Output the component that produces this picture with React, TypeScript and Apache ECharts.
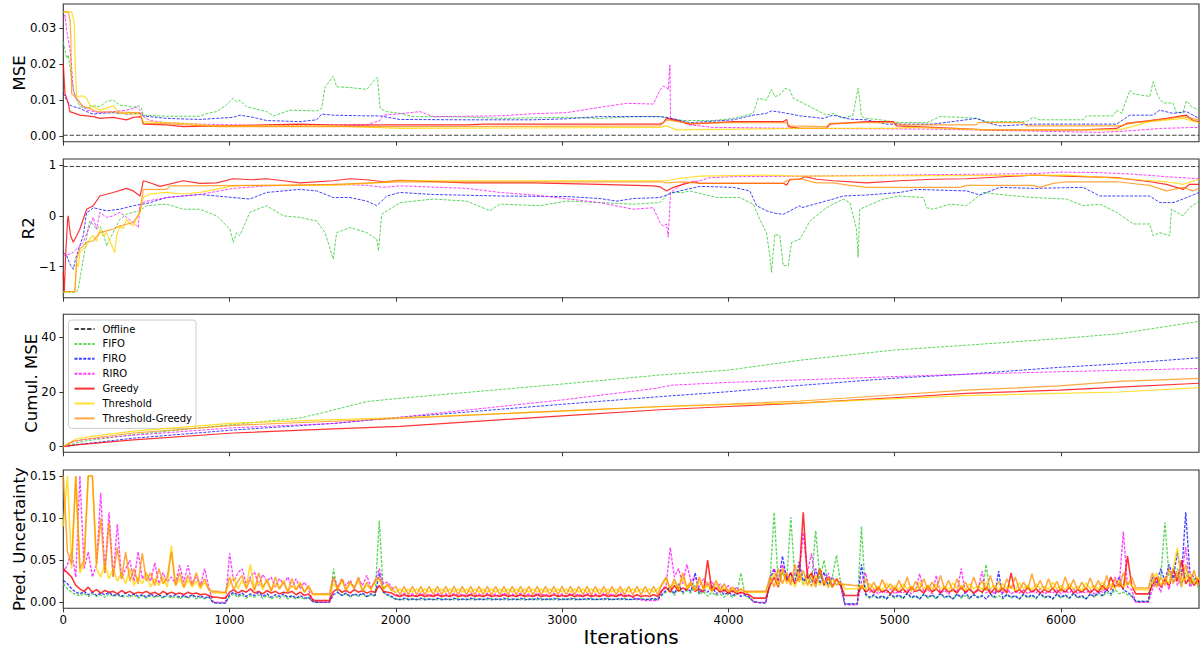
import React, { useEffect, useRef } from "react";
import * as echarts from "echarts";

// ---- shared x range (iterations) ----
const X_MAX = 6830;
const X_TICKS = [0, 1000, 2000, 3000, 4000, 5000, 6000];
const UNC_STEP = 25; // prediction-uncertainty values are listed every 25 iterations

const METHODS = ["Offline", "FIFO", "FIRO", "RIRO", "Greedy", "Threshold", "Threshold-Greedy"];

// ---- MSE (rolling) : [iteration, value] ----
const mseOffline = [[0, 0.0002], [6830, 0.0002]];
const mseFIFO = [
  [0, 0.0263], [10, 0.024], [20, 0.0216], [30, 0.0226], [40, 0.0193], [50, 0.0156], [60, 0.0133], [70, 0.011],
  [100, 0.0082], [140, 0.0077], [180, 0.0084], [220, 0.0082], [260, 0.0096], [300, 0.01], [340, 0.0086],
  [380, 0.0084], [420, 0.008], [450, 0.0084], [470, 0.0078], [481, 0.0058], [620, 0.0055], [820, 0.0055],
  [860, 0.0062], [922, 0.0068], [980, 0.0086], [1022, 0.0105], [1042, 0.0095], [1062, 0.01], [1100, 0.0082],
  [1142, 0.0077], [1223, 0.0068], [1263, 0.0056], [1310, 0.0063], [1363, 0.0072], [1524, 0.007], [1554, 0.0077],
  [1574, 0.0136], [1624, 0.0167], [1644, 0.0137], [1724, 0.0135], [1825, 0.013], [1870, 0.0155], [1890, 0.0163],
  [1905, 0.0077], [1945, 0.0068], [2025, 0.0063], [2100, 0.0054], [2426, 0.0053], [2626, 0.0049], [3027, 0.0052],
  [3228, 0.0049], [3428, 0.0054], [3588, 0.0054], [3652, 0.0049], [3728, 0.0043], [3909, 0.0043], [4029, 0.0049],
  [4109, 0.0058], [4149, 0.0063], [4179, 0.0105], [4229, 0.01], [4259, 0.013], [4279, 0.011], [4309, 0.0114],
  [4340, 0.0133], [4370, 0.0128], [4390, 0.0105], [4430, 0.0096], [4510, 0.0077], [4590, 0.0058], [4630, 0.0063],
  [4690, 0.0049], [4750, 0.0058], [4770, 0.011], [4780, 0.0133], [4790, 0.01], [4800, 0.0054], [4831, 0.0049],
  [4951, 0.0043], [4991, 0.0038], [5192, 0.0037], [5272, 0.0054], [5392, 0.0052], [5492, 0.0049], [5552, 0.004],
  [5793, 0.004], [5833, 0.0052], [5873, 0.0045], [6133, 0.0045], [6153, 0.0056], [6314, 0.0056], [6334, 0.0072],
  [6364, 0.0063], [6414, 0.0128], [6434, 0.0118], [6534, 0.011], [6554, 0.0151], [6584, 0.011], [6614, 0.0092],
  [6674, 0.0092], [6694, 0.0065], [6734, 0.0065], [6754, 0.0098], [6784, 0.0082], [6830, 0.0072],
];
const mseFIRO = [
  [0, 0.0119], [20, 0.01], [40, 0.0086], [60, 0.0082], [100, 0.0077], [140, 0.0068], [180, 0.0061], [220, 0.0063],
  [300, 0.0065], [380, 0.0061], [461, 0.0063], [481, 0.0056], [621, 0.0049], [821, 0.0046], [1022, 0.0052],
  [1062, 0.0058], [1142, 0.0052], [1223, 0.0043], [1423, 0.004], [1524, 0.0045], [1554, 0.0061], [1624, 0.0058],
  [1825, 0.0056], [1905, 0.0056], [2025, 0.0046], [2426, 0.0045], [2827, 0.0045], [3027, 0.0048], [3228, 0.0054],
  [3588, 0.0054], [3628, 0.0052], [3768, 0.0037], [4029, 0.0045], [4149, 0.0058], [4229, 0.0063], [4259, 0.007],
  [4330, 0.0065], [4410, 0.0058], [4430, 0.0056], [4570, 0.0049], [4630, 0.0058], [4730, 0.0047], [4831, 0.0045],
  [4951, 0.0033], [5232, 0.0033], [5492, 0.0049], [5552, 0.0038], [5633, 0.0028], [5833, 0.0033], [6334, 0.0033],
  [6414, 0.0058], [6554, 0.0058], [6594, 0.0072], [6674, 0.0063], [6754, 0.0068], [6830, 0.0049],
];
const mseRIRO = [
  [0, 0.0323], [10, 0.0337], [20, 0.0295], [40, 0.024], [50, 0.0193], [60, 0.0128], [80, 0.0105], [100, 0.0091],
  [140, 0.0072], [220, 0.0065], [300, 0.0068], [380, 0.0072], [421, 0.0077], [441, 0.008], [461, 0.0072],
  [481, 0.0054], [521, 0.0043], [621, 0.0037], [821, 0.0033], [1022, 0.0031], [1223, 0.0028], [1524, 0.0031],
  [1825, 0.0031], [1905, 0.0043], [1925, 0.0058], [2025, 0.0062], [2145, 0.0068], [2225, 0.0054], [2626, 0.0056],
  [2827, 0.0062], [3027, 0.0065], [3228, 0.008], [3388, 0.0091], [3548, 0.0089], [3588, 0.0128], [3608, 0.0139],
  [3628, 0.0135], [3638, 0.0128], [3648, 0.0198], [3652, 0.0049], [3768, 0.0031], [3909, 0.0024], [4430, 0.0021],
  [5232, 0.0019], [6230, 0.001], [6434, 0.0015], [6594, 0.0021], [6830, 0.0024],
];
const mseGreedy = [
  [0, 0.0202], [10, 0.0119], [30, 0.0091], [40, 0.0068], [100, 0.0058], [180, 0.0054], [220, 0.0049], [300, 0.0052],
  [380, 0.0045], [421, 0.0052], [461, 0.0054], [471, 0.0049], [481, 0.0033], [621, 0.0031], [721, 0.0026],
  [922, 0.0028], [1423, 0.0033], [1624, 0.003], [2025, 0.0031], [2426, 0.0031], [2526, 0.0033], [3588, 0.0033],
  [3608, 0.0037], [3628, 0.0049], [3688, 0.0043], [3768, 0.0033], [4029, 0.004], [4330, 0.004], [4350, 0.0046],
  [4360, 0.0026], [4430, 0.0021], [4590, 0.0021], [4610, 0.0033], [4831, 0.004], [4991, 0.004], [5011, 0.0028],
  [5232, 0.0024], [5552, 0.0017], [6133, 0.0017], [6334, 0.0021], [6394, 0.0035], [6534, 0.0043], [6634, 0.0049],
  [6754, 0.0058], [6794, 0.0043], [6830, 0.004],
];
const mseThreshold = [
  [0, 0.0346], [50, 0.0346], [60, 0.0328], [65, 0.032], [72, 0.02], [80, 0.011], [120, 0.0112], [140, 0.0105],
  [160, 0.0086], [220, 0.0072], [300, 0.0084], [340, 0.0063], [461, 0.0061], [481, 0.004], [721, 0.0035],
  [922, 0.0028], [1624, 0.0028], [2025, 0.0021], [3588, 0.0024], [3628, 0.0028], [3688, 0.0017], [4430, 0.0021],
  [4991, 0.0021], [5100, 0.0024], [5552, 0.0017], [6354, 0.0017], [6534, 0.004], [6734, 0.0049], [6830, 0.0037],
];
const mseThrGreedy = [
  [0, 0.0346], [30, 0.0346], [40, 0.0323], [45, 0.028], [50, 0.0119], [80, 0.0105], [120, 0.0082], [160, 0.0077],
  [200, 0.0068], [461, 0.0065], [481, 0.0035], [621, 0.0034], [922, 0.0026], [2025, 0.0026], [3588, 0.0028],
  [3628, 0.0045], [3768, 0.0035], [4029, 0.0037], [4350, 0.0037], [4370, 0.0028], [4590, 0.0026], [4610, 0.0035],
  [4831, 0.0037], [4991, 0.0037], [5051, 0.0031], [5492, 0.0031], [5502, 0.0037], [5773, 0.0037], [5793, 0.0028],
  [6364, 0.0028], [6414, 0.0035], [6614, 0.0046], [6734, 0.0054], [6830, 0.0045],
];

// ---- R2 (rolling) : [iteration, value] ----
const r2Offline = [[0, 0.97], [6830, 0.97]];
const r2FIFO = [
  [0, -1.5], [80, -1.5], [90, -1.43], [110, -1.05], [130, -0.65], [150, -0.23], [160, -0.1], [200, -0.26],
  [220, -0.2], [240, -0.33], [260, -0.59], [300, -0.33], [340, -0.07], [380, 0.03], [421, 0.07], [461, 0.1],
  [501, 0.2], [621, 0.23], [721, 0.13], [821, 0.13], [922, 0.0], [1002, -0.26], [1022, -0.52], [1042, -0.33],
  [1062, -0.39], [1122, 0.07], [1223, 0.2], [1323, 0.0], [1423, -0.03], [1524, -0.1], [1574, -0.33], [1614, -0.75],
  [1624, -0.85], [1644, -0.33], [1724, -0.23], [1825, -0.33], [1885, -0.46], [1895, -0.69], [1915, 0.03],
  [2025, 0.26], [2225, 0.33], [2426, 0.29], [2566, 0.1], [2626, 0.23], [2867, 0.2], [3027, 0.29], [3228, 0.26],
  [3428, 0.23], [3588, 0.26], [3648, 0.46], [3728, 0.46], [3768, 0.49], [3929, 0.36], [4069, 0.36], [4149, 0.23],
  [4189, -0.07], [4229, -0.33], [4249, -0.78], [4259, -1.11], [4279, -0.36], [4309, -0.39], [4330, -0.98],
  [4360, -0.98], [4380, -0.52], [4430, -0.46], [4490, -0.1], [4590, 0.16], [4690, 0.33], [4730, 0.26],
  [4770, -0.26], [4780, -0.82], [4790, 0.13], [4931, 0.33], [5031, 0.39], [5172, 0.36], [5192, 0.16], [5232, 0.13],
  [5332, 0.23], [5432, 0.2], [5532, 0.46], [5633, 0.42], [5833, 0.36], [6033, 0.33], [6133, 0.2], [6234, 0.23],
  [6334, 0.07], [6434, -0.16], [6534, -0.16], [6554, -0.39], [6594, -0.33], [6654, -0.39], [6664, 0.13],
  [6734, 0.0], [6774, 0.16], [6830, 0.29],
];
const r2FIRO = [
  [0, -0.72], [20, -0.78], [40, -0.95], [60, -1.05], [70, -0.9], [80, -0.78], [120, -0.39], [140, 0.07], [160, 0.1],
  [180, 0.16], [220, 0.13], [260, 0.1], [340, 0.13], [421, 0.2], [481, 0.23], [521, 0.26], [621, 0.36], [721, 0.39],
  [821, 0.42], [1022, 0.36], [1122, 0.33], [1223, 0.46], [1423, 0.52], [1524, 0.49], [1624, 0.36], [1724, 0.36],
  [1825, 0.29], [1885, 0.2], [1905, 0.26], [1945, 0.39], [2025, 0.46], [2225, 0.42], [2626, 0.39], [3027, 0.38],
  [3228, 0.34], [3328, 0.29], [3428, 0.34], [3588, 0.36], [3668, 0.46], [3829, 0.58], [4029, 0.56], [4129, 0.49],
  [4169, 0.2], [4229, 0.1], [4280, 0.05], [4330, 0.03], [4430, 0.2], [4440, 0.16], [4630, 0.33], [4690, 0.39],
  [4831, 0.41], [5031, 0.46], [5132, 0.52], [5432, 0.49], [5512, 0.41], [5633, 0.56], [5833, 0.54], [6133, 0.56],
  [6234, 0.39], [6534, 0.39], [6594, 0.26], [6674, 0.26], [6734, 0.33], [6830, 0.46],
];
const r2RIRO = [
  [0, -0.78], [40, -0.75], [60, -0.72], [80, -0.65], [120, -0.52], [160, -0.2], [180, -0.03], [200, -0.26],
  [220, 0.07], [260, -0.03], [300, 0.0], [340, 0.07], [380, -0.03], [421, -0.13], [451, -0.23], [461, 0.23],
  [501, 0.29], [621, 0.36], [721, 0.39], [821, 0.42], [1022, 0.54], [1223, 0.59], [1423, 0.6], [1624, 0.62],
  [1825, 0.6], [1925, 0.56], [2025, 0.59], [2426, 0.54], [2626, 0.46], [2827, 0.41], [3228, 0.26], [3428, 0.13],
  [3548, 0.16], [3588, -0.13], [3608, -0.2], [3628, -0.16], [3638, -0.42], [3652, 0.46], [3728, 0.64],
  [3829, 0.69], [3889, 0.75], [4029, 0.77], [4430, 0.78], [5232, 0.81], [5833, 0.83], [5993, 0.86], [6234, 0.85],
  [6434, 0.82], [6634, 0.77], [6830, 0.73],
];
const r2Greedy = [
  [0, -1.11], [6, -1.5], [14, -0.78], [26, -0.07], [30, 0.0], [36, -0.2], [44, -0.39], [60, -0.52], [80, -0.39],
  [100, -0.26], [140, 0.13], [180, 0.2], [220, 0.39], [300, 0.46], [380, 0.54], [421, 0.49], [461, 0.39],
  [471, 0.52], [481, 0.69], [521, 0.65], [581, 0.58], [721, 0.69], [821, 0.64], [922, 0.65], [1022, 0.73],
  [1142, 0.71], [1223, 0.73], [1323, 0.69], [1423, 0.65], [1624, 0.69], [1724, 0.73], [1825, 0.71], [1925, 0.67],
  [2025, 0.7], [2426, 0.65], [2827, 0.65], [3228, 0.62], [3548, 0.59], [3588, 0.57], [3628, 0.49], [3668, 0.56],
  [3728, 0.62], [3788, 0.67], [3829, 0.64], [4330, 0.64], [4350, 0.6], [4370, 0.72], [4430, 0.72], [4460, 0.77],
  [4530, 0.72], [4630, 0.69], [4831, 0.65], [5031, 0.69], [5232, 0.72], [5432, 0.73], [5833, 0.8], [6033, 0.78],
  [6334, 0.75], [6434, 0.71], [6534, 0.67], [6634, 0.62], [6734, 0.52], [6774, 0.62], [6830, 0.62],
];
const r2Threshold = [
  [0, -1.49], [70, -1.49], [80, -0.92], [90, -1.0], [100, -0.72], [120, -0.65], [140, -0.59], [160, -0.45],
  [180, -0.39], [200, -0.5], [220, -0.26], [240, -0.4], [260, -0.33], [280, -0.5], [300, -0.65], [310, -0.72],
  [320, -0.4], [340, -0.2], [360, -0.25], [380, -0.07], [400, -0.15], [421, -0.2], [441, -0.05], [461, 0.07],
  [481, 0.36], [521, 0.43], [621, 0.46], [721, 0.43], [821, 0.46], [1022, 0.59], [1223, 0.6], [1624, 0.6],
  [1825, 0.64], [2025, 0.69], [3588, 0.69], [3628, 0.69], [3688, 0.73], [3829, 0.78], [4229, 0.8], [4430, 0.78],
  [5232, 0.79], [6033, 0.8], [6434, 0.72], [6634, 0.67], [6734, 0.62], [6830, 0.72],
];
const r2ThrGreedy = [
  [0, -1.49], [70, -1.49], [80, -0.85], [100, -0.65], [140, -0.52], [180, -0.49], [220, -0.33], [300, -0.26],
  [340, -0.2], [421, -0.13], [461, 0.07], [481, 0.52], [621, 0.52], [641, 0.59], [1223, 0.6], [1624, 0.62],
  [2025, 0.67], [3588, 0.67], [3628, 0.65], [3728, 0.67], [3829, 0.64], [4330, 0.64], [4350, 0.69], [4430, 0.73],
  [4530, 0.65], [4630, 0.65], [4730, 0.6], [4831, 0.56], [5392, 0.56], [5432, 0.6], [5833, 0.6], [5873, 0.56],
  [5953, 0.64], [6033, 0.67], [6334, 0.67], [6534, 0.6], [6634, 0.49], [6734, 0.56], [6794, 0.49], [6830, 0.54],
];

// ---- Cumulative MSE : [iteration, value] ----
const cumFIFO = [
  [0, 0], [120, 2.0], [421, 4.4], [1022, 8.1], [1423, 10.5], [1545, 12.2], [1825, 16.5], [2025, 17.7], [3000, 22.9],
  [3590, 26.2], [4000, 28.0], [4430, 31.6], [4990, 35.3], [5430, 37.1], [5990, 39.5], [6350, 41.3], [6830, 45.8],
];
const cumFIRO = [
  [0, 0], [120, 1.0], [421, 3.1], [1022, 6.1], [1625, 8.5], [2025, 10.7], [3000, 15.5], [3590, 18.3], [4000, 20.1],
  [4430, 22.4], [4990, 25.0], [5430, 26.5], [5990, 29.0], [6350, 30.3], [6830, 32.5],
];
const cumRIRO = [
  [0, 0], [60, 1.8], [120, 2.6], [421, 4.2], [1022, 6.9], [1625, 8.5], [2025, 10.8], [3000, 17.1], [3560, 21.3],
  [3660, 22.5], [4000, 23.5], [4430, 24.4], [4990, 25.6], [5430, 26.5], [5990, 27.4], [6350, 27.9], [6830, 28.6],
];
const cumGreedy = [
  [0, 0], [60, 0.6], [421, 2.5], [1022, 5.0], [1625, 6.5], [2025, 7.4], [3000, 11.3], [3590, 13.5], [4000, 14.7],
  [4430, 15.9], [4990, 17.9], [5430, 19.5], [5990, 20.7], [6350, 21.8], [6830, 23.2],
];
const cumThreshold = [
  [0, 0], [40, 1.5], [80, 2.9], [160, 3.7], [421, 5.7], [1022, 8.6], [1625, 9.9], [2025, 10.6], [3000, 13.0],
  [3590, 14.6], [4000, 15.4], [4430, 16.0], [4990, 17.5], [5430, 18.7], [5990, 19.5], [6350, 20.0], [6830, 21.6],
];
const cumThrGreedy = [
  [0, 0], [40, 1.4], [60, 2.0], [160, 3.0], [421, 5.0], [1022, 7.8], [1625, 9.3], [2025, 10.3], [3000, 13.1],
  [3590, 14.7], [4000, 15.6], [4430, 16.7], [4990, 18.9], [5430, 20.7], [5990, 22.2], [6350, 23.9], [6830, 25.0],
];

// ---- Prediction uncertainty, one value every UNC_STEP iterations (0 … 6850, 275 values) ----
// rows: 0–875 | 900–975 | 1000–1475 | 1500–1600 | 1625–1975 | 2000–3575 | 3600–4125 | 4150–4225 |
//       4250–4675 | 4700–4775 | 4800–6425 | 6450–6525 | 6550–6850
const uncFIFO = [
  0.022, 0.016, 0.012, 0.009, 0.008, 0.011, 0.007, 0.010, 0.007, 0.009, 0.006, 0.010, 0.007, 0.009, 0.006, 0.008, 0.006, 0.009,
  0.005, 0.008, 0.005, 0.008, 0.006, 0.007, 0.005, 0.008, 0.005, 0.007, 0.004, 0.007, 0.005, 0.008, 0.004, 0.006, 0.004, 0.006,
  0.000, -0.001, -0.001, -0.001,
  0.007, 0.010, 0.006, 0.009, 0.005, 0.008, 0.006, 0.009, 0.005, 0.008, 0.004, 0.007, 0.005, 0.008, 0.004, 0.007, 0.004, 0.006, 0.004, 0.005,
  0.001, 0.000, 0.000, 0.000, 0.000,
  0.040, 0.012, 0.008, 0.010, 0.006, 0.009, 0.007, 0.010, 0.006, 0.009, 0.007, 0.097, 0.012, 0.008, 0.006,
  0.003, 0.004, 0.003, 0.005, 0.003, 0.004, 0.003, 0.005, 0.003, 0.004, 0.003, 0.005, 0.003, 0.004, 0.003, 0.005,
  0.003, 0.004, 0.003, 0.005, 0.003, 0.004, 0.003, 0.005, 0.003, 0.004, 0.003, 0.005, 0.003, 0.004, 0.003, 0.005,
  0.003, 0.004, 0.003, 0.005, 0.003, 0.004, 0.003, 0.005, 0.003, 0.004, 0.003, 0.005, 0.003, 0.004, 0.003, 0.005,
  0.003, 0.004, 0.003, 0.005, 0.003, 0.004, 0.003, 0.005, 0.003, 0.004, 0.003, 0.005, 0.003, 0.004, 0.003, 0.005,
  0.008, 0.012, 0.015, 0.008, 0.018, 0.010, 0.014, 0.011, 0.020, 0.009, 0.013, 0.007, 0.012, 0.008, 0.010, 0.006, 0.010, 0.006, 0.009, 0.035, 0.008, 0.005,
  0.001, 0.000, 0.000, 0.000,
  0.025, 0.107, 0.020, 0.035, 0.025, 0.101, 0.028, 0.040, 0.022, 0.035, 0.025, 0.085, 0.028, 0.050, 0.020, 0.030, 0.056, 0.022,
  -0.002, -0.002, -0.002, -0.002,
  0.090, 0.008, 0.005, 0.008, 0.004, 0.007, 0.004, 0.009, 0.005, 0.008, 0.004, 0.010, 0.005, 0.007, 0.004, 0.009,
  0.005, 0.008, 0.004, 0.010, 0.005, 0.007, 0.004, 0.009, 0.005, 0.008, 0.004, 0.010, 0.005, 0.007, 0.045, 0.009,
  0.005, 0.008, 0.004, 0.010, 0.005, 0.007, 0.004, 0.009, 0.005, 0.008, 0.004, 0.010, 0.005, 0.007, 0.004, 0.009,
  0.005, 0.008, 0.004, 0.010, 0.005, 0.007, 0.004, 0.009, 0.006, 0.010, 0.007, 0.012, 0.008, 0.015, 0.010, 0.012,
  0.009, 0.007,
  0.001, 0.001, 0.001, 0.001,
  0.025, 0.020, 0.030, 0.095, 0.030, 0.025, 0.040, 0.022, 0.035, 0.020, 0.028, 0.018, 0.010,
];
const uncFIRO = [
  0.026, 0.022, 0.016, 0.012, 0.010, 0.013, 0.009, 0.012, 0.008, 0.011, 0.009, 0.012, 0.008, 0.010, 0.007, 0.011, 0.008, 0.010,
  0.007, 0.009, 0.006, 0.010, 0.007, 0.009, 0.006, 0.010, 0.007, 0.009, 0.006, 0.008, 0.006, 0.009, 0.006, 0.008, 0.005, 0.007,
  0.000, -0.001, -0.001, -0.001,
  0.009, 0.012, 0.008, 0.011, 0.007, 0.010, 0.008, 0.012, 0.007, 0.010, 0.006, 0.009, 0.007, 0.010, 0.006, 0.008, 0.005, 0.008, 0.005, 0.006,
  0.001, 0.000, 0.000, 0.000, 0.000,
  0.009, 0.012, 0.008, 0.011, 0.007, 0.010, 0.008, 0.011, 0.007, 0.010, 0.008, 0.035, 0.012, 0.009, 0.007,
  0.004, 0.003, 0.005, 0.003, 0.004, 0.003, 0.005, 0.003, 0.004, 0.003, 0.005, 0.003, 0.004, 0.003, 0.005, 0.003,
  0.004, 0.003, 0.005, 0.003, 0.004, 0.003, 0.005, 0.003, 0.004, 0.003, 0.005, 0.003, 0.004, 0.003, 0.005, 0.003,
  0.004, 0.003, 0.005, 0.003, 0.004, 0.003, 0.005, 0.003, 0.004, 0.003, 0.005, 0.003, 0.004, 0.003, 0.005, 0.003,
  0.004, 0.003, 0.005, 0.003, 0.004, 0.003, 0.005, 0.003, 0.004, 0.003, 0.005, 0.003, 0.004, 0.003, 0.005, 0.003,
  0.010, 0.014, 0.018, 0.010, 0.022, 0.012, 0.016, 0.013, 0.035, 0.011, 0.016, 0.012, 0.020, 0.010, 0.014, 0.009, 0.012, 0.008, 0.011, 0.007, 0.009, 0.006,
  0.001, 0.000, -0.001, -0.001,
  0.025, 0.040, 0.022, 0.055, 0.028, 0.035, 0.022, 0.048, 0.025, 0.030, 0.020, 0.040, 0.022, 0.036, 0.018, 0.030, 0.020, 0.025,
  -0.002, -0.002, -0.002, -0.002,
  0.045, 0.010, 0.006, 0.009, 0.005, 0.008, 0.004, 0.010, 0.006, 0.009, 0.005, 0.011, 0.006, 0.008, 0.004, 0.010,
  0.006, 0.009, 0.005, 0.011, 0.006, 0.008, 0.004, 0.010, 0.006, 0.012, 0.005, 0.009, 0.006, 0.008, 0.004, 0.010,
  0.006, 0.037, 0.005, 0.009, 0.006, 0.008, 0.004, 0.010, 0.006, 0.009, 0.005, 0.011, 0.006, 0.008, 0.004, 0.010,
  0.006, 0.009, 0.005, 0.011, 0.006, 0.008, 0.004, 0.010, 0.007, 0.012, 0.008, 0.015, 0.010, 0.020, 0.030, 0.015,
  0.012, 0.008,
  0.001, 0.001, 0.001, 0.001,
  0.030, 0.022, 0.040, 0.025, 0.045, 0.028, 0.060, 0.030, 0.107, 0.035, 0.030, 0.025, 0.015,
];
const uncRIRO = [
  0.035, 0.045, 0.060, 0.030, 0.150, 0.040, 0.060, 0.030, 0.045, 0.130, 0.035, 0.107, 0.030, 0.093, 0.028, 0.040, 0.050, 0.025,
  0.060, 0.028, 0.035, 0.025, 0.047, 0.022, 0.035, 0.024, 0.030, 0.022, 0.044, 0.024, 0.044, 0.022, 0.030, 0.020, 0.040, 0.018,
  0.001, 0.000, 0.000, 0.000,
  0.058, 0.025, 0.035, 0.040, 0.022, 0.030, 0.036, 0.020, 0.033, 0.025, 0.030, 0.018, 0.028, 0.022, 0.030, 0.018, 0.028, 0.016, 0.024, 0.015,
  0.002, 0.001, 0.000, 0.000, 0.000,
  0.030, 0.018, 0.028, 0.020, 0.026, 0.017, 0.028, 0.020, 0.032, 0.018, 0.025, 0.040, 0.022, 0.024, 0.018,
  0.010, 0.007, 0.011, 0.008, 0.010, 0.007, 0.011, 0.008, 0.010, 0.007, 0.011, 0.008, 0.010, 0.007, 0.011, 0.008,
  0.010, 0.007, 0.011, 0.008, 0.010, 0.007, 0.011, 0.008, 0.010, 0.007, 0.011, 0.008, 0.010, 0.007, 0.011, 0.008,
  0.010, 0.007, 0.011, 0.008, 0.010, 0.007, 0.011, 0.008, 0.010, 0.007, 0.011, 0.008, 0.010, 0.007, 0.011, 0.008,
  0.010, 0.007, 0.011, 0.008, 0.010, 0.007, 0.011, 0.008, 0.009, 0.006, 0.004, 0.003, 0.002, 0.002, 0.002, 0.002,
  0.015, 0.020, 0.065, 0.030, 0.040, 0.022, 0.045, 0.025, 0.030, 0.018, 0.028, 0.020, 0.025, 0.015, 0.022, 0.012, 0.020, 0.012, 0.018, 0.010, 0.014, 0.008,
  0.000, 0.000, 0.000, 0.000,
  0.030, 0.040, 0.025, 0.045, 0.030, 0.025, 0.035, 0.030, 0.083, 0.035, 0.058, 0.025, 0.040, 0.022, 0.035, 0.020, 0.028, 0.018,
  -0.003, -0.003, -0.003, -0.003,
  0.025, 0.035, 0.012, 0.015, 0.010, 0.014, 0.011, 0.016, 0.010, 0.013, 0.011, 0.015, 0.010, 0.014, 0.034, 0.012,
  0.015, 0.010, 0.032, 0.011, 0.014, 0.010, 0.016, 0.012, 0.040, 0.011, 0.015, 0.010, 0.014, 0.037, 0.011, 0.015,
  0.010, 0.014, 0.011, 0.016, 0.010, 0.013, 0.011, 0.015, 0.010, 0.014, 0.011, 0.016, 0.010, 0.013, 0.011, 0.015,
  0.010, 0.014, 0.011, 0.016, 0.010, 0.013, 0.011, 0.015, 0.010, 0.014, 0.012, 0.018, 0.015, 0.030, 0.020, 0.084,
  0.018, 0.015,
  0.000, 0.000, 0.000, 0.000,
  0.015, 0.025, 0.012, 0.030, 0.015, 0.040, 0.020, 0.030, 0.066, 0.018, 0.025, 0.030, 0.018,
];
const uncGreedy = [
  0.040, 0.035, 0.030, 0.020, 0.016, 0.013, 0.018, 0.012, 0.015, 0.011, 0.014, 0.012, 0.013, 0.010, 0.014, 0.011, 0.013, 0.010,
  0.012, 0.011, 0.013, 0.010, 0.012, 0.009, 0.013, 0.010, 0.012, 0.010, 0.011, 0.009, 0.012, 0.010, 0.011, 0.009, 0.010, 0.008,
  0.006, 0.006, 0.005, 0.005,
  0.012, 0.015, 0.011, 0.014, 0.012, 0.016, 0.011, 0.013, 0.010, 0.014, 0.011, 0.013, 0.010, 0.012, 0.011, 0.013, 0.009, 0.012, 0.008, 0.010,
  0.003, 0.002, 0.002, 0.002, 0.002,
  0.013, 0.016, 0.012, 0.014, 0.011, 0.015, 0.012, 0.014, 0.011, 0.013, 0.012, 0.020, 0.013, 0.012, 0.011,
  0.008, 0.007, 0.009, 0.007, 0.008, 0.007, 0.009, 0.007, 0.008, 0.007, 0.009, 0.007, 0.008, 0.007, 0.009, 0.007,
  0.008, 0.007, 0.009, 0.007, 0.008, 0.007, 0.009, 0.007, 0.008, 0.007, 0.009, 0.007, 0.008, 0.007, 0.009, 0.007,
  0.008, 0.007, 0.009, 0.007, 0.008, 0.007, 0.009, 0.007, 0.008, 0.007, 0.009, 0.007, 0.008, 0.007, 0.009, 0.007,
  0.008, 0.007, 0.009, 0.007, 0.008, 0.007, 0.009, 0.007, 0.008, 0.007, 0.009, 0.007, 0.008, 0.007, 0.009, 0.007,
  0.014, 0.018, 0.012, 0.020, 0.013, 0.017, 0.015, 0.022, 0.013, 0.016, 0.012, 0.050, 0.014, 0.017, 0.012, 0.015, 0.011, 0.014, 0.010, 0.012, 0.010, 0.009,
  0.005, 0.005, 0.005, 0.005,
  0.020, 0.030, 0.018, 0.040, 0.025, 0.035, 0.022, 0.030, 0.107, 0.028, 0.035, 0.022, 0.040, 0.020, 0.030, 0.018, 0.028, 0.020,
  0.008, 0.008, 0.008, 0.008,
  0.020, 0.012, 0.016, 0.011, 0.018, 0.012, 0.015, 0.010, 0.017, 0.012, 0.016, 0.011, 0.018, 0.013, 0.015, 0.011,
  0.020, 0.012, 0.016, 0.011, 0.017, 0.012, 0.015, 0.011, 0.018, 0.012, 0.016, 0.011, 0.015, 0.012, 0.018, 0.011,
  0.016, 0.012, 0.017, 0.011, 0.035, 0.012, 0.015, 0.011, 0.018, 0.012, 0.016, 0.011, 0.015, 0.012, 0.017, 0.011,
  0.016, 0.012, 0.018, 0.011, 0.015, 0.012, 0.017, 0.011, 0.016, 0.012, 0.020, 0.014, 0.030, 0.018, 0.022, 0.016,
  0.055, 0.020,
  0.010, 0.010, 0.010, 0.010,
  0.020, 0.030, 0.018, 0.028, 0.020, 0.040, 0.025, 0.050, 0.022, 0.030, 0.020, 0.028, 0.018,
];
const uncThreshold = [
  0.090, 0.150, 0.040, 0.150, 0.035, 0.045, 0.150, 0.150, 0.040, 0.030, 0.045, 0.028, 0.040, 0.025, 0.035, 0.022, 0.040, 0.020,
  0.030, 0.022, 0.035, 0.018, 0.028, 0.020, 0.030, 0.018, 0.067, 0.020, 0.028, 0.017, 0.026, 0.018, 0.025, 0.016, 0.024, 0.015,
  0.011, 0.011, 0.011, 0.011,
  0.022, 0.030, 0.016, 0.026, 0.018, 0.045, 0.016, 0.025, 0.015, 0.028, 0.014, 0.022, 0.016, 0.026, 0.013, 0.020, 0.015, 0.024, 0.012, 0.018,
  0.009, 0.009, 0.009, 0.009, 0.009,
  0.022, 0.016, 0.026, 0.015, 0.022, 0.018, 0.025, 0.014, 0.020, 0.016, 0.024, 0.028, 0.015, 0.020, 0.014,
  0.012, 0.016, 0.012, 0.016, 0.012, 0.016, 0.012, 0.016, 0.012, 0.016, 0.012, 0.016, 0.012, 0.016, 0.012, 0.016,
  0.012, 0.016, 0.012, 0.016, 0.012, 0.016, 0.012, 0.016, 0.012, 0.016, 0.012, 0.016, 0.012, 0.016, 0.012, 0.016,
  0.012, 0.016, 0.012, 0.016, 0.012, 0.016, 0.012, 0.016, 0.012, 0.016, 0.012, 0.016, 0.012, 0.016, 0.012, 0.016,
  0.012, 0.016, 0.012, 0.016, 0.012, 0.016, 0.012, 0.016, 0.012, 0.016, 0.012, 0.016, 0.012, 0.016, 0.012, 0.016,
  0.020, 0.028, 0.016, 0.024, 0.015, 0.030, 0.016, 0.022, 0.014, 0.026, 0.015, 0.020, 0.013, 0.022, 0.014, 0.018, 0.013, 0.016, 0.012, 0.015, 0.012, 0.012,
  0.012, 0.012, 0.012, 0.012,
  0.025, 0.035, 0.020, 0.040, 0.022, 0.030, 0.018, 0.035, 0.020, 0.028, 0.018, 0.032, 0.020, 0.026, 0.017, 0.028, 0.020, 0.024,
  0.016, 0.016, 0.016, 0.016,
  0.020, 0.015, 0.022, 0.016, 0.019, 0.014, 0.023, 0.016, 0.020, 0.015, 0.022, 0.016, 0.019, 0.014, 0.024, 0.016,
  0.020, 0.015, 0.022, 0.016, 0.019, 0.015, 0.023, 0.016, 0.020, 0.014, 0.022, 0.016, 0.019, 0.015, 0.024, 0.016,
  0.020, 0.015, 0.022, 0.016, 0.019, 0.014, 0.023, 0.016, 0.020, 0.015, 0.022, 0.016, 0.019, 0.015, 0.024, 0.016,
  0.020, 0.015, 0.022, 0.016, 0.019, 0.014, 0.023, 0.016, 0.020, 0.015, 0.024, 0.017, 0.022, 0.016, 0.026, 0.018,
  0.024, 0.020,
  0.015, 0.015, 0.015, 0.015,
  0.025, 0.035, 0.020, 0.030, 0.022, 0.040, 0.065, 0.025, 0.028, 0.035, 0.022, 0.030, 0.020,
];
const uncThrGreedy = [
  0.150, 0.060, 0.045, 0.150, 0.040, 0.050, 0.150, 0.150, 0.045, 0.100, 0.035, 0.095, 0.030, 0.065, 0.028, 0.060, 0.025, 0.040,
  0.022, 0.058, 0.025, 0.035, 0.020, 0.040, 0.022, 0.030, 0.060, 0.020, 0.035, 0.018, 0.032, 0.020, 0.035, 0.018, 0.028, 0.015,
  0.013, 0.013, 0.012, 0.012,
  0.030, 0.015, 0.025, 0.032, 0.016, 0.028, 0.014, 0.035, 0.018, 0.026, 0.013, 0.030, 0.016, 0.024, 0.012, 0.028, 0.015, 0.022, 0.012, 0.020,
  0.010, 0.010, 0.010, 0.010, 0.010,
  0.030, 0.015, 0.028, 0.014, 0.025, 0.016, 0.030, 0.013, 0.024, 0.015, 0.026, 0.030, 0.016, 0.022, 0.014,
  0.019, 0.009, 0.019, 0.009, 0.019, 0.009, 0.019, 0.009, 0.019, 0.009, 0.019, 0.009, 0.019, 0.009, 0.019, 0.009,
  0.019, 0.009, 0.019, 0.009, 0.019, 0.009, 0.019, 0.009, 0.019, 0.009, 0.019, 0.009, 0.019, 0.009, 0.019, 0.009,
  0.019, 0.009, 0.019, 0.009, 0.019, 0.009, 0.019, 0.009, 0.019, 0.009, 0.019, 0.009, 0.019, 0.009, 0.019, 0.009,
  0.019, 0.009, 0.019, 0.009, 0.019, 0.009, 0.019, 0.009, 0.019, 0.009, 0.019, 0.009, 0.019, 0.009, 0.019, 0.009,
  0.022, 0.030, 0.016, 0.028, 0.015, 0.035, 0.018, 0.025, 0.014, 0.030, 0.016, 0.024, 0.013, 0.026, 0.015, 0.022, 0.013, 0.018, 0.013, 0.016, 0.013, 0.013,
  0.013, 0.013, 0.013, 0.013,
  0.030, 0.018, 0.040, 0.022, 0.035, 0.020, 0.045, 0.024, 0.038, 0.020, 0.032, 0.018, 0.040, 0.022, 0.030, 0.018, 0.028, 0.022,
  0.021, 0.021, 0.020, 0.020,
  0.016, 0.028, 0.015, 0.024, 0.013, 0.027, 0.016, 0.022, 0.014, 0.026, 0.015, 0.030, 0.013, 0.025, 0.016, 0.028,
  0.014, 0.024, 0.015, 0.032, 0.016, 0.026, 0.013, 0.028, 0.015, 0.024, 0.014, 0.030, 0.016, 0.026, 0.014, 0.032,
  0.015, 0.025, 0.013, 0.028, 0.016, 0.030, 0.014, 0.024, 0.015, 0.034, 0.016, 0.026, 0.014, 0.028, 0.015, 0.025,
  0.013, 0.030, 0.016, 0.027, 0.014, 0.024, 0.015, 0.029, 0.016, 0.026, 0.014, 0.032, 0.015, 0.028, 0.018, 0.035,
  0.020, 0.030,
  0.017, 0.017, 0.017, 0.017,
  0.035, 0.018, 0.030, 0.020, 0.040, 0.022, 0.035, 0.018, 0.045, 0.022, 0.038, 0.020, 0.030,
];

// ---- tick labels ----
const MSE_TICKS = [0, 0.01, 0.02, 0.03];
const R2_TICKS = [-1, 0, 1];
const CUM_TICKS = [0, 20, 40];
const UNC_TICKS = [0, 0.05, 0.1, 0.15];

const FONT = "DejaVu Sans";

const LINE_STYLES: Record<string, any> = {
  Offline: { color: "#222222", type: [4.4, 1.9], width: 1.2, opacity: 0.85 },
  FIFO: { color: "#32cd32", type: [3, 1.4], width: 1, opacity: 0.8 },
  FIRO: { color: "#0000ff", type: [3, 1.4], width: 1, opacity: 0.75 },
  RIRO: { color: "#ff00ff", type: [3, 1.4], width: 1, opacity: 0.75 },
  Greedy: { color: "#ff0000", type: "solid", width: 1.2, opacity: 0.8 },
  Threshold: { color: "#ffd700", type: "solid", width: 1.2, opacity: 0.8 },
  "Threshold-Greedy": { color: "#ff8c00", type: "solid", width: 1.2, opacity: 0.75 },
};
// the dense uncertainty traces are drawn a little heavier
const UNC_WIDTH_BOOST = 0.35;

const toSteps = (vals: number[]) => vals.map((v, i) => [i * UNC_STEP, v]);

const PANELS: { data: Record<string, number[][]> }[] = [
  {
    data: {
      Offline: mseOffline, FIFO: mseFIFO, FIRO: mseFIRO, RIRO: mseRIRO,
      Greedy: mseGreedy, Threshold: mseThreshold, "Threshold-Greedy": mseThrGreedy,
    },
  },
  {
    data: {
      Offline: r2Offline, FIFO: r2FIFO, FIRO: r2FIRO, RIRO: r2RIRO,
      Greedy: r2Greedy, Threshold: r2Threshold, "Threshold-Greedy": r2ThrGreedy,
    },
  },
  {
    data: {
      FIFO: cumFIFO, FIRO: cumFIRO, RIRO: cumRIRO,
      Greedy: cumGreedy, Threshold: cumThreshold, "Threshold-Greedy": cumThrGreedy,
    },
  },
  {
    data: {
      FIFO: toSteps(uncFIFO), FIRO: toSteps(uncFIRO), RIRO: toSteps(uncRIRO),
      Greedy: toSteps(uncGreedy), Threshold: toSteps(uncThreshold), "Threshold-Greedy": toSteps(uncThrGreedy),
    },
  },
];

// panel frames in pixels
const GRIDS = [
  { top: 4, height: 137.7 },
  { top: 159, height: 138.7 },
  { top: 314.3, height: 138 },
  { top: 470, height: 138.3 },
];

const Y_AXES = [
  { name: "MSE", min: -0.0016, max: 0.0368, ticks: MSE_TICKS, fmt: (v: number) => v.toFixed(2), gap: 35.5 },
  { name: "R2", min: -1.61, max: 1.118, ticks: R2_TICKS, fmt: (v: number) => (v < 0 ? "\u2212" + Math.abs(v) : String(v)), gap: 26.7 },
  { name: "Cumul. MSE", min: -2.05, max: 48.4, ticks: CUM_TICKS, fmt: (v: number) => String(v), gap: 23.8 },
  { name: "Pred. Uncertainty", min: -0.0071, max: 0.1571, ticks: UNC_TICKS, fmt: (v: number) => v.toFixed(2), gap: 35 },
];

function buildOption() {
  const grid = GRIDS.map((g) => ({
    left: 63.3,
    width: 1135.7,
    top: g.top,
    height: g.height,
    show: true,
    borderColor: "#333",
    borderWidth: 1.1,
    backgroundColor: "transparent",
    containLabel: false,
    outerBoundsMode: "none",
  }));

  const xAxis = GRIDS.map((_, i) => ({
    type: "value",
    gridIndex: i,
    min: 0,
    max: X_MAX,
    axisLine: { show: false, onZero: false },
    splitLine: { show: false },
    axisTick: { show: true, length: 4, customValues: X_TICKS, lineStyle: { color: "#222", width: 0.9 } },
    axisLabel: {
      show: i === 3,
      customValues: X_TICKS,
      formatter: (v: number) => String(v),
      margin: 6,
      fontSize: 11.8,
      color: "#000",
      fontFamily: FONT,
    },
    name: i === 3 ? "Iterations" : "",
    nameLocation: "middle",
    nameGap: 19,
    nameMoveOverlap: false,
    nameTextStyle: { fontSize: 20, color: "#000", fontFamily: FONT },
  }));

  const yAxis = Y_AXES.map((a, i) => ({
    type: "value",
    gridIndex: i,
    min: a.min,
    max: a.max,
    axisLine: { show: false, onZero: false },
    splitLine: { show: false },
    axisTick: { show: true, length: 4, customValues: a.ticks, lineStyle: { color: "#222", width: 0.9 } },
    axisLabel: {
      customValues: a.ticks,
      formatter: a.fmt,
      margin: 7,
      fontSize: 11.8,
      color: "#000",
      fontFamily: FONT,
    },
    name: a.name,
    nameLocation: "middle",
    nameGap: a.gap,
    nameMoveOverlap: false,
    nameTextStyle: { fontSize: 16.5, color: "#000", fontFamily: FONT },
  }));

  const series: any[] = [];
  PANELS.forEach((p, gi) => {
    METHODS.forEach((m, k) => {
      const d = p.data[m];
      if (!d) return;
      const st = LINE_STYLES[m];
      series.push({
        type: "line",
        name: m,
        xAxisIndex: gi,
        yAxisIndex: gi,
        data: d,
        symbol: "none",
        showSymbol: false,
        silent: true,
        z: 2 + k,
        itemStyle: { color: st.color },
        lineStyle: {
          color: st.color,
          type: st.type,
          width: st.width + (gi === 3 ? UNC_WIDTH_BOOST : 0),
          opacity: st.opacity,
        },
        emphasis: { disabled: true },
      });
    });
  });

  return {
    animation: false,
    grid,
    xAxis,
    yAxis,
    legend: {
      data: METHODS,
      orient: "vertical",
      left: 68.5,
      top: 320,
      itemWidth: 20,
      itemHeight: 12,
      itemGap: 2.9,
      padding: [3, 4, 4, 5],
      backgroundColor: "rgba(255,255,255,0.85)",
      borderColor: "#cccccc",
      borderWidth: 1,
      borderRadius: 3,
      selectedMode: false,
      itemStyle: { opacity: 0 },
      textStyle: { fontSize: 10, color: "#000", fontFamily: FONT, lineHeight: 12, padding: [0, 0, 0, 3] },
    },
    series,
  };
}

export default function App() {
  const ref = useRef<HTMLDivElement>(null);
  useEffect(() => {
    document.body.style.margin = "0";
    const chart = echarts.init(ref.current!, null, { renderer: "svg" });
    chart.setOption(buildOption() as any);
    return () => chart.dispose();
  }, []);
  return (
    <div
      ref={ref}
      style={{ position: "absolute", left: 0, top: 0, width: 1200, height: 648, background: "#fff" }}
    />
  );
}
